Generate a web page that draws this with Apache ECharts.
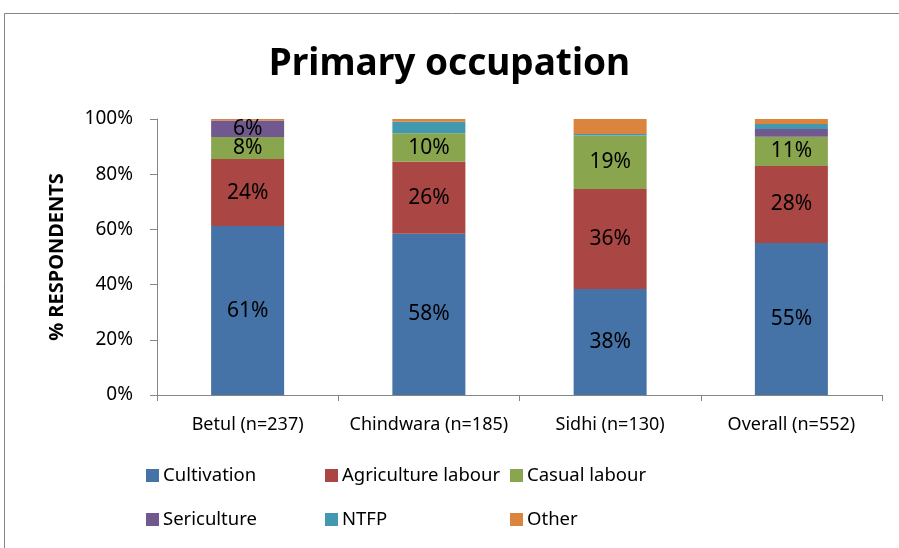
<!DOCTYPE html>
<html>
<head>
<meta charset="utf-8">
<script src="https://cdn.jsdelivr.net/npm/echarts@6/dist/echarts.min.js"></script>
<style>
  html, body { margin: 0; padding: 0; background: #fff; }
  #chart { width: 899px; height: 548px; }
</style>
</head>
<body>
<div id="chart"></div>
<script>
// values (% of respondents)
const districts = ['Betul (n=237)', 'Chindwara (n=185)', 'Sidhi (n=130)', 'Overall (n=552)']
const cultivation = [61.2, 58.4, 38.4, 55.1]
const agriLabour = [24.3, 26.1, 36.2, 27.9]
const casualLabour = [8.0, 10.3, 19.4, 10.6]
const sericulture = [6.0, 0, 0, 2.8]
const ntfp = [0, 4.2, 0.6, 1.8]
const other = [0.5, 1.0, 5.4, 1.8]
const yTicks = ['0%', '20%', '40%', '60%', '80%', '100%']

const font = 'Noto Sans'
const colors = ['#4572A7', '#AA4643', '#89A54E', '#71588F', '#4198AF', '#DB843D']

const seriesList = [
  ['Cultivation', cultivation],
  ['Agriculture labour', agriLabour],
  ['Casual labour', casualLabour],
  ['Sericulture', sericulture],
  ['NTFP', ntfp],
  ['Other', other]
]

// legend spots: three columns, two rows
const legendPos = [[146, 466], [325, 466], [510, 466], [146, 510], [325, 510], [510, 510]]

let chart = echarts.init(document.getElementById('chart'))

const option = {
  animation: false,
  color: colors,
  graphic: [{
    type: 'rect',
    shape: { x: 4.5, y: 13.5, width: 920, height: 560 },
    style: { fill: 'none', stroke: '#868686', lineWidth: 1 },
    silent: true
  }],
  title: {
    text: 'Primary occupation',
    left: 'center',
    top: 41,
    textStyle: { fontFamily: font, fontSize: 37, fontWeight: 'bold', color: '#000' }
  },
  legend: seriesList.map((s, i) => ({
    data: [s[0]],
    left: legendPos[i][0],
    top: legendPos[i][1],
    icon: 'rect',
    itemWidth: 13,
    itemHeight: 13,
    itemGap: 0,
    padding: 0,
    textStyle: { fontFamily: font, fontSize: 18.5, color: '#000', padding: [0, 0, 0, -1] }
  })),
  grid: { left: 157, right: 17, top: 119, bottom: 153 },
  xAxis: {
    type: 'category',
    data: districts,
    axisLine: { lineStyle: { color: '#868686' } },
    axisTick: { show: true, length: 6, lineStyle: { color: '#868686' } },
    axisLabel: { interval: 0, fontFamily: font, fontSize: 18, color: '#000', margin: 21 }
  },
  yAxis: {
    type: 'value',
    min: 0,
    max: 100,
    interval: 20,
    name: '% RESPONDENTS',
    nameLocation: 'middle',
    nameGap: 90,
    nameTextStyle: { fontFamily: font, fontSize: 20, fontWeight: 'bold', color: '#000' },
    splitLine: { show: false },
    axisLine: { show: true, lineStyle: { color: '#868686' } },
    axisTick: { show: true, length: 7, lineStyle: { color: '#868686' } },
    axisLabel: {
      fontFamily: font, fontSize: 19, color: '#000', margin: 24,
      formatter: v => yTicks[v / 20]
    }
  },
  series: seriesList.map(s => ({
    name: s[0],
    type: 'bar',
    stack: 'all',
    barWidth: 73,
    data: s[1],
    label: {
      show: true,
      position: 'inside',
      fontFamily: font,
      fontSize: 21,
      color: '#000',
      formatter: p => p.value > 5.5 ? Math.round(p.value) + '%' : ''
    }
  }))
}

chart.setOption(option)
</script>
</body>
</html>
